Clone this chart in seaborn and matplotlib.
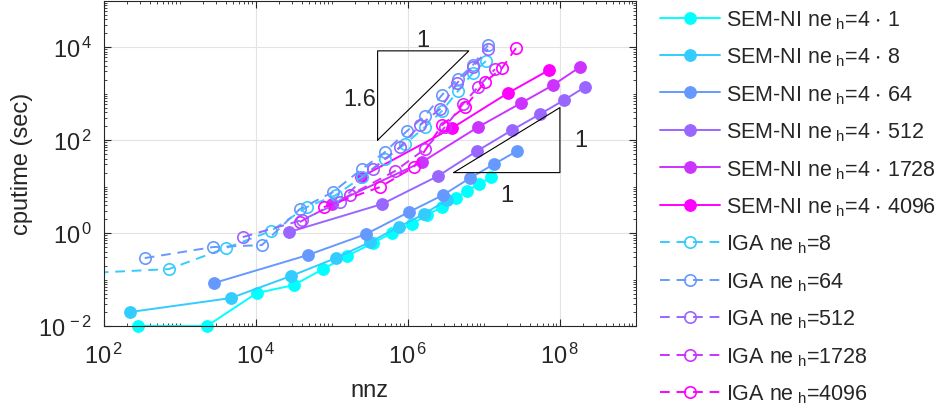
import numpy as np
import matplotlib
matplotlib.use("Agg")
import matplotlib.pyplot as plt
import matplotlib.ticker as mticker
import seaborn as sns

sns.set_theme(style="ticks")
plt.rcParams["font.family"] = ["Liberation Sans", "DejaVu Sans"]
plt.rcParams["mathtext.fontset"] = "custom"
plt.rcParams["mathtext.rm"] = "Liberation Sans"
plt.rcParams["mathtext.it"] = "Liberation Sans:italic"
plt.rcParams["mathtext.default"] = "regular"

# colores tipo "cool" (cian -> magenta)
COLORS = ["#00FFFF", "#33CCFF", "#6699FF", "#9966FF", "#CC33FF", "#FF00FF"]

# SEM-NI, ne_h = 4*k
sem1_nnz = [280, 2270, 1.03e4, 3.16e4, 7.62e4, 1.57e5, 3.46e5, 6.16e5, 1.13e6, 1.78e6, 2.8e6, 4.28e6, 5.97e6, 8.6e6, 1.24e7]
sem1_t = [0.01, 0.01, 0.0513, 0.0762, 0.168, 0.32, 0.61, 1.0, 1.56, 2.44, 3.62, 5.66, 8.0, 11.3, 16.0]
sem8_nnz = [220, 4690, 2.89e4, 1.13e5, 3.16e5, 7.62e5, 1.62e6, 3.26e6]
sem8_t = [0.02, 0.04, 0.119, 0.29, 0.64, 1.35, 2.56, 5.13]
sem64_nnz = [2800, 4.83e4, 2.8e5, 1.03e6, 2.89e6, 6.55e6, 1.36e7, 2.72e7]
sem64_t = [0.084, 0.337, 0.95, 2.83, 6.56, 15.2, 30.5, 58]
sem512_nnz = [2.72e4, 4.55e5, 2.48e6, 8.09e6, 2.34e7, 5.46e7, 1.13e8, 2.13e8]
sem512_t = [1.05, 4.2, 16.8, 58, 164, 362, 724, 1380]
sem1728_nnz = [1.0e5, 1.53e6, 8.34e6, 3.07e7, 8.09e7, 1.83e8]
sem1728_t = [4.2, 33.6, 190, 625, 1520, 3715]
sem4096_nnz = [2.41e5, 3.79e6, 2.07e7, 7.16e7]
sem4096_t = [16.0, 181, 1026, 3200]

# IGA
iga8_nnz = [31.6, 717, 4030, 1.57e4, 4.69e4, 1.13e5, 2.48e5, 4.98e5, 9.14e5, 1.67e6, 2.8e6, 4.55e6, 7.16e6, 1.06e7]
iga8_t = [0.131, 0.168, 0.475, 1.10, 3.62, 6.56, 16.0, 39, 82, 190, 421, 1130, 2760, 5000]
iga64_nnz = [346, 2720, 1.2e4, 3.79e4, 1.03e5, 2.48e5, 4.98e5, 9.7e5, 1.67e6, 2.8e6, 4.55e6, 7.16e6, 1.13e7]
iga64_t = [0.29, 0.5, 0.552, 3.28, 7.62, 23.8, 55, 156, 328, 929, 2050, 4100, 11000]
iga512_nnz = [6740, 4.03e4, 1.27e5, 3.46e5, 7.85e5, 1.44e6, 2.64e6, 4.42e6, 7.16e6, 1.13e7]
iga512_t = [0.82, 1.9, 4.64, 23.8, 70.7, 210, 464, 1680, 3720, 9060]
iga1728_nnz = [3.79e4, 1.73e5, 6.74e5, 1.67e6, 3.07e6, 5.29e6, 8.34e6, 1.4e7]
iga1728_t = [1.73, 6.56, 21.5, 64, 190, 594, 1380, 3360]
iga4096_nnz = [7.85e4, 4.28e5, 1.2e6, 2.8e6, 5.62e6, 1.03e7, 1.73e7, 2.64e7]
iga4096_t = [3.62, 9.75, 26.3, 210, 513, 1770, 3530, 9500]

sem_labels = ["1", "8", "64", "512", "1728", "4096"]
iga_labels = ["8", "64", "512", "1728", "4096"]

sem_series = [(sem1_nnz, sem1_t), (sem8_nnz, sem8_t), (sem64_nnz, sem64_t),
              (sem512_nnz, sem512_t), (sem1728_nnz, sem1728_t), (sem4096_nnz, sem4096_t)]
iga_series = [(iga8_nnz, iga8_t), (iga64_nnz, iga64_t), (iga512_nnz, iga512_t),
              (iga1728_nnz, iga1728_t), (iga4096_nnz, iga4096_t)]

fig = plt.figure(figsize=(9.52, 4.14), dpi=100)
ax = fig.add_axes([0.109, 0.21, 0.559, 0.786])
ax.set_xscale("log")
ax.set_yscale("log")

for i, (x, y) in enumerate(sem_series):
    c = COLORS[i]
    sns.lineplot(x=x, y=y, ax=ax, color=c, lw=1.4, marker="o", markersize=8.2,
                 markeredgecolor=c, markerfacecolor=c, markeredgewidth=1,
                 estimator=None, sort=False, clip_on=False,
                 label=r"SEM-NI ne$_{\ h}$=4 $\cdot$ " + sem_labels[i])

for i, (x, y) in enumerate(iga_series):
    c = COLORS[i + 1]
    sns.lineplot(x=x, y=y, ax=ax, color=c, lw=1.4, marker="o", markersize=8.2,
                 markeredgecolor=c, markerfacecolor="none", markeredgewidth=1.2,
                 linestyle=(0, (5, 3.5)), estimator=None, sort=False,
                 label=r"IGA ne$_{\ h}$=" + iga_labels[i])

# triangulos de pendiente
tx0, tx1, ty0 = 4e5, 4e5 * 10 ** 1.2, 100
ty1 = ty0 * 10 ** (1.6 * 1.2)
ax.plot([tx0, tx0, tx1, tx0], [ty0, ty1, ty1, ty0], color="black", lw=0.8)
ax.text(np.sqrt(tx0 * tx1), ty1 * 0.98, "1", ha="center", va="bottom", fontsize=17)
ax.text(tx0 / 1.06, np.sqrt(ty0 * ty1) * 0.82, "1.6", ha="right", va="center", fontsize=17)

sx0, sx1, sy0 = 4e6, 1e8, 20
sy1 = sy0 * (sx1 / sx0)
ax.plot([sx0, sx1, sx1, sx0], [sy0, sy0, sy1, sy0], color="black", lw=0.8)
ax.text(sx1 * 1.55, np.sqrt(sy0 * sy1), "1", ha="left", va="center", fontsize=17)
ax.text(np.sqrt(sx0 * sx1), sy0 / 1.8, "1", ha="center", va="top", fontsize=17)

ax.set_xlim(1e2, 1e9)
ax.set_ylim(1e-2, 1e5)
ax.xaxis.set_major_locator(mticker.FixedLocator([1e2, 1e4, 1e6, 1e8]))
ax.yaxis.set_major_locator(mticker.FixedLocator([1e-2, 1e0, 1e2, 1e4]))
ax.xaxis.set_minor_locator(mticker.LogLocator(base=10, subs=np.arange(1, 10), numticks=100))
ax.yaxis.set_minor_locator(mticker.LogLocator(base=10, subs=np.arange(1, 10), numticks=100))
ax.xaxis.set_minor_formatter(mticker.NullFormatter())
ax.yaxis.set_minor_formatter(mticker.NullFormatter())
pow_fmt = mticker.FuncFormatter(lambda v, _: r"$10^{\,%d}$" % round(np.log10(v)))
ax.xaxis.set_major_formatter(pow_fmt)
ax.yaxis.set_major_formatter(pow_fmt)
ax.tick_params(which="both", direction="in", top=True, right=True, colors="#262626", labelsize=17)
ax.tick_params(which="major", length=5, width=0.8)
ax.tick_params(which="minor", length=2.5, width=0.6)
ax.tick_params(axis="x", which="major", pad=12)
ax.tick_params(axis="y", which="major", pad=8)
ax.grid(True, which="major", color="#E3E3E3", lw=0.8)
ax.set_axisbelow(True)
for s in ax.spines.values():
    s.set_color("#262626")
    s.set_linewidth(0.8)

ax.set_xlabel("nnz", fontsize=17, color="#262626", labelpad=8)
ax.set_ylabel("cputime (sec)", fontsize=17, color="#262626", labelpad=4)

ax.legend(loc="upper left", bbox_to_anchor=(0.693, 0.978), bbox_transform=fig.transFigure,
          frameon=False, fontsize=15.5, handlelength=2.8, handletextpad=0.3,
          labelspacing=0.69, borderpad=0, borderaxespad=0)

fig.savefig("out.png", dpi=100)
plt.close()
